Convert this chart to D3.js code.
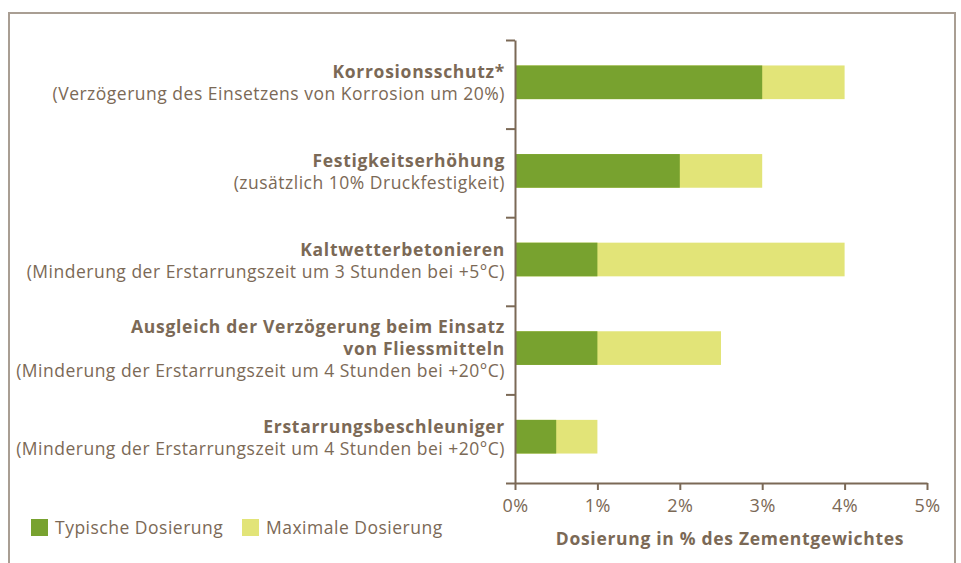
<html>
<head>
  <script src="https://d3js.org/d3.v7.min.js"></script>
  <style>
    body { margin: 0; background: #fff; }
    text { font-family: "Open Sans", sans-serif; fill: #7b6956; letter-spacing: 0.5px; }
    .axis path, .axis line { stroke: #7b6956; stroke-width: 2; }
  </style>
</head>
<body>
  <svg id="chart" width="961" height="563"></svg>
  <script>
    // data
    const titles = ["Korrosionsschutz*", "Festigkeitserhöhung", "Kaltwetterbetonieren",
                    "Ausgleich der Verzögerung beim Einsatz|von Fliessmitteln", "Erstarrungsbeschleuniger"];
    const subtitles = ["(Verzögerung des Einsetzens von Korrosion um 20%)",
                       "(zusätzlich 10% Druckfestigkeit)",
                       "(Minderung der Erstarrungszeit um 3 Stunden bei +5°C)",
                       "(Minderung der Erstarrungszeit um 4 Stunden bei +20°C)",
                       "(Minderung der Erstarrungszeit um 4 Stunden bei +20°C)"];
    const typical = [3, 2, 1, 1, 0.5];
    const maximal = [4, 3, 4, 2.5, 1];
    const xTicks = [0, 1, 2, 3, 4, 5];
    const seriesNames = ["Typische Dosierung", "Maximale Dosierung"];
    const colors = ["#78a22f", "#e2e478"];

    let svg = d3.select("svg#chart");
    let margin = { top: 40, left: 515, bottom: 80, right: 34 };
    let chartWidth = svg.attr("width") - margin.left - margin.right;
    let chartHeight = svg.attr("height") - margin.top - margin.bottom;

    // frame
    svg.append("path")
      .attr("d", "M9,563 V13 H955 V563")
      .attr("fill", "none")
      .attr("stroke", "#a99e93")
      .attr("stroke-width", 2);

    const xScale = d3.scaleLinear().domain([0, 5]).range([0, chartWidth]);
    const yScale = d3.scaleBand().domain(titles).range([0, chartHeight]).paddingInner(0.62).paddingOuter(0.31);
    const yTickScale = d3.scaleLinear().domain([0, titles.length]).range([0, chartHeight]);

    let chartArea = svg.append("g")
      .attr("transform", `translate(${margin.left}, ${margin.top})`);

    // bars: maximal behind, typical on top
    chartArea.selectAll("rect.max").data(titles).join("rect")
      .attr("class", "max")
      .attr("x", 0)
      .attr("y", d => yScale(d) - 2)
      .attr("width", (d, i) => xScale(maximal[i]))
      .attr("height", yScale.bandwidth())
      .attr("fill", colors[1]);

    chartArea.selectAll("rect.typ").data(titles).join("rect")
      .attr("class", "typ")
      .attr("x", 0)
      .attr("y", d => yScale(d) - 2)
      .attr("width", (d, i) => xScale(typical[i]))
      .attr("height", yScale.bandwidth())
      .attr("fill", colors[0]);

    // y axis (ticks at band boundaries)
    let yAxis = d3.axisLeft(yTickScale).tickValues(d3.range(titles.length + 1))
      .tickSizeInner(9).tickSizeOuter(0).tickFormat("");
    chartArea.append("g").attr("class", "axis").call(yAxis);

    // x axis
    let xAxis = d3.axisBottom(xScale).tickValues(xTicks).tickSizeInner(7).tickSizeOuter(0)
      .tickPadding(9).tickFormat(d => d + "%");
    let xg = chartArea.append("g").attr("class", "axis")
      .attr("transform", `translate(0, ${chartHeight})`)
      .call(xAxis);
    xg.selectAll("text").style("font-size", "18px").style("font-family", "'Open Sans', sans-serif")
      .attr("fill", "#7b6956");

    // category labels (bold title lines + regular subtitle)
    titles.forEach((t, i) => {
      let lines = t.split("|");
      let c = margin.top + yTickScale(i + 0.5);
      let n = lines.length + 1;
      let y0 = c + 5 - (n - 1) * 22 / 2;
      lines.forEach((l, j) => {
        svg.append("text")
          .attr("text-anchor", "end")
          .attr("x", 505)
          .attr("y", y0 + j * 22)
          .style("font-size", "17.5px")
          .style("font-weight", "bold")
          .style("letter-spacing", "0.7px")
          .text(l);
      });
      svg.append("text")
        .attr("text-anchor", "end")
        .attr("x", 505)
        .attr("y", y0 + lines.length * 22)
        .style("font-size", "17.5px")
        .text(subtitles[i]);
    });

    // x axis title
    svg.append("text")
      .attr("text-anchor", "middle")
      .attr("x", 730)
      .attr("y", 545)
      .style("font-size", "17.5px")
      .style("font-weight", "bold")
      .style("letter-spacing", "0.7px")
      .text("Dosierung in % des Zementgewichtes");

    // legend
    let legendX = [31, 242];
    seriesNames.forEach((d, i) => {
      svg.append("rect")
        .attr("x", legendX[i])
        .attr("y", 519)
        .attr("width", 17)
        .attr("height", 17)
        .style("fill", colors[i]);
      svg.append("text")
        .attr("x", legendX[i] + 24)
        .attr("y", 534)
        .style("font-size", "17.5px")
        .text(d);
    });
  </script>
</body>
</html>
